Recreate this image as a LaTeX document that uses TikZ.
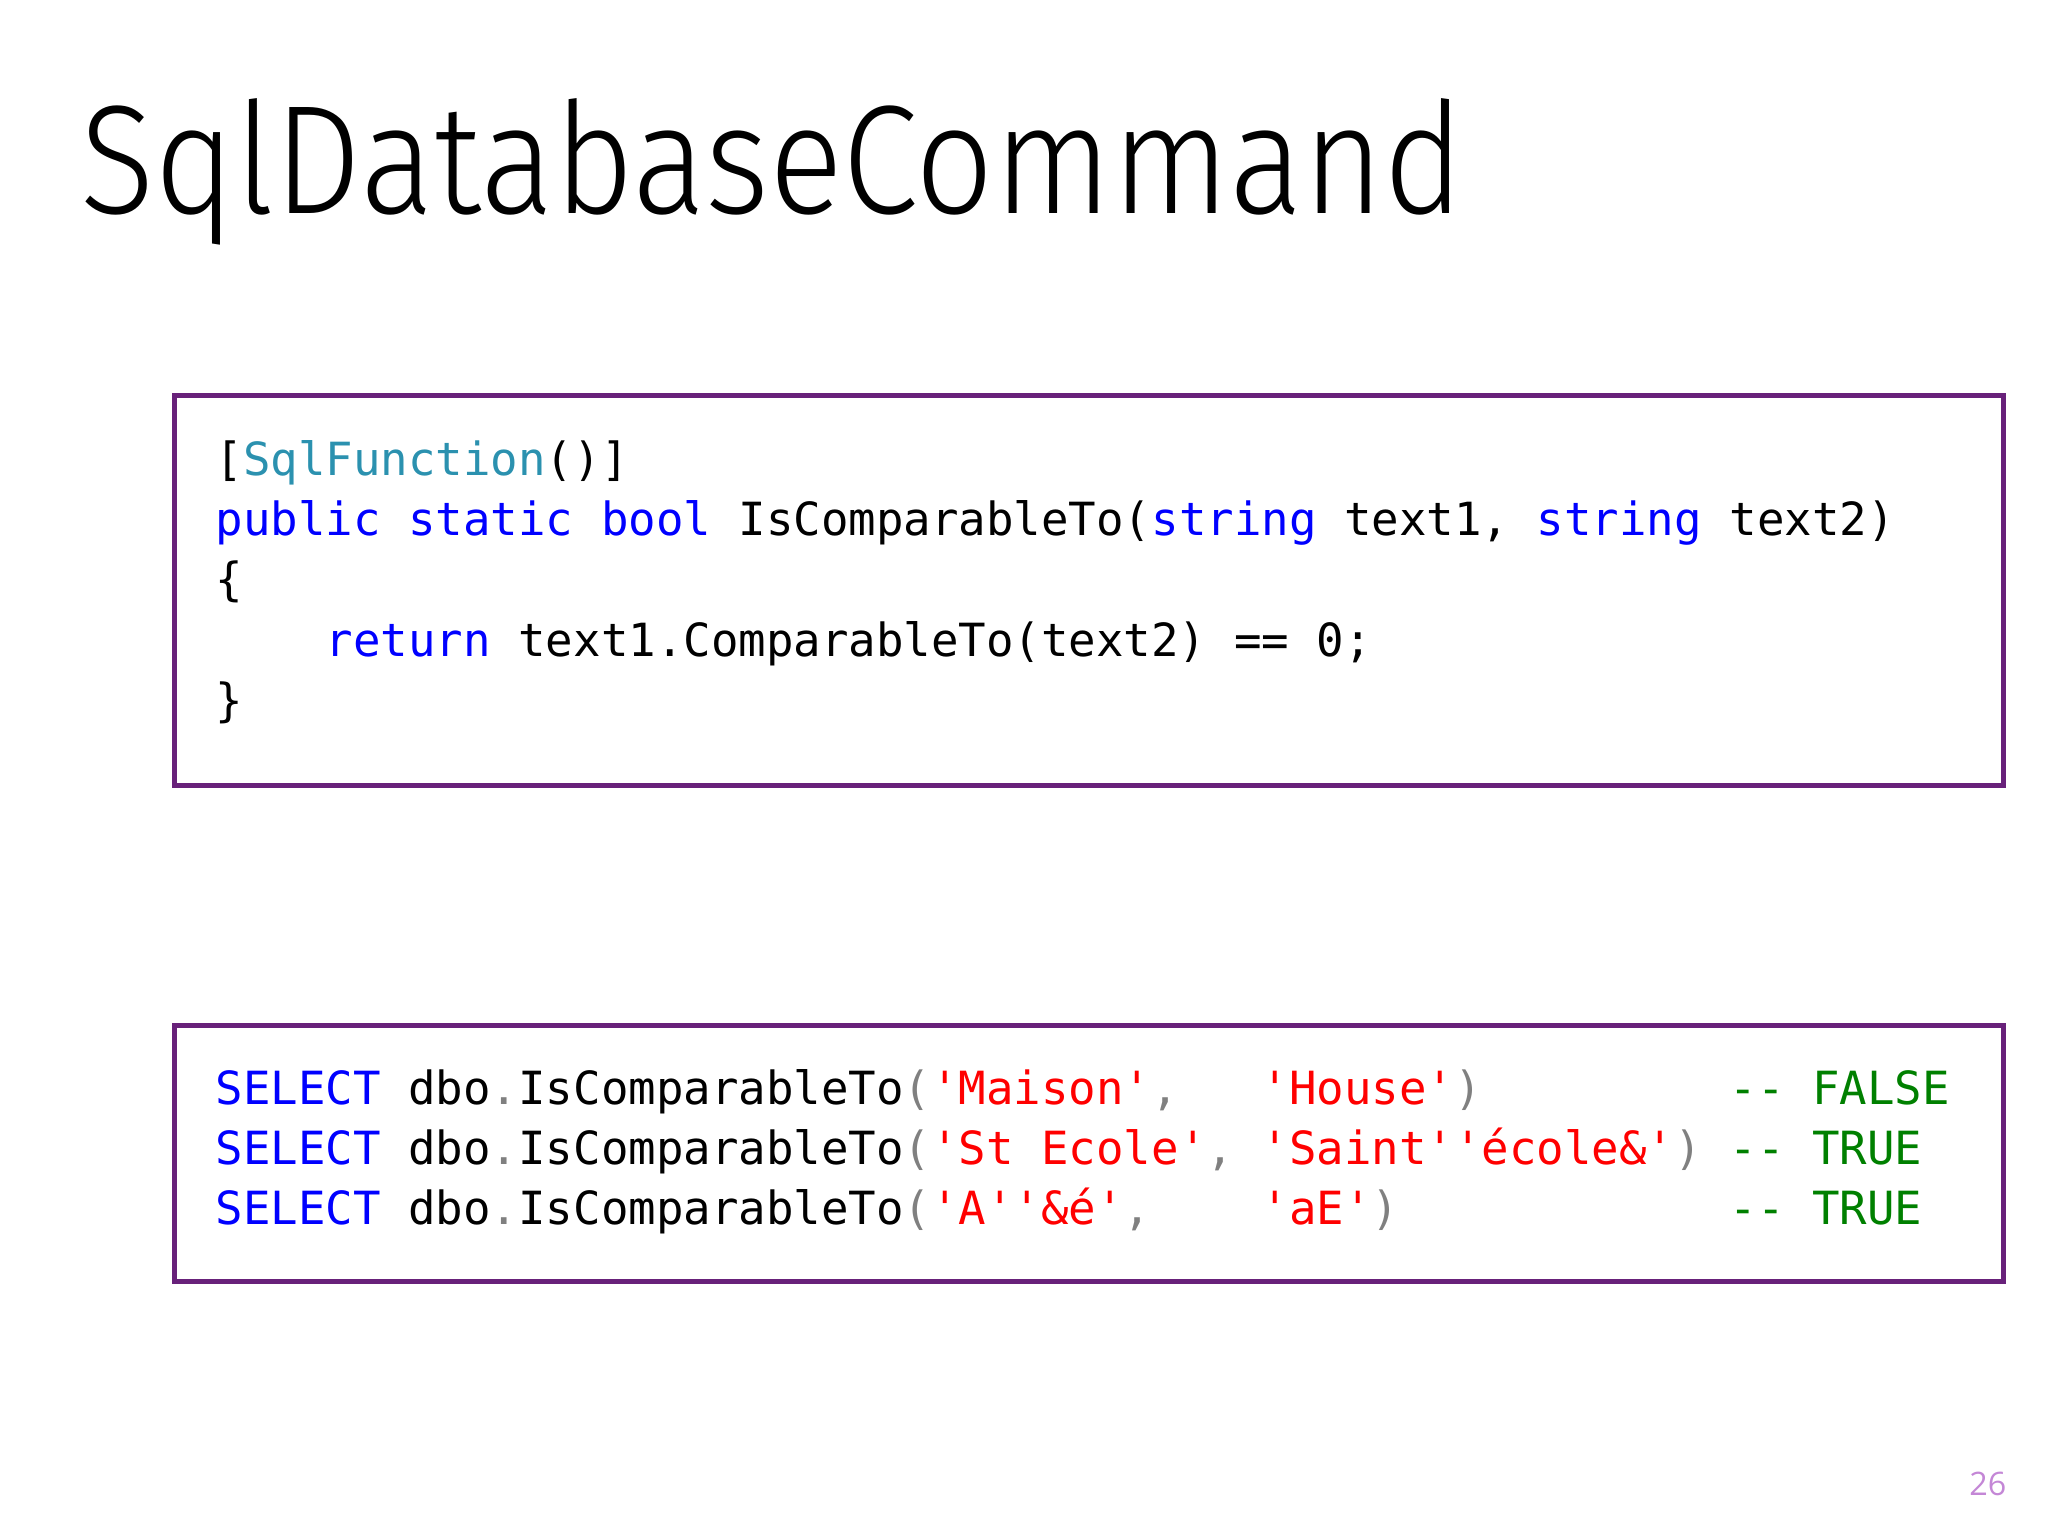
\documentclass[tikz,border=0pt]{standalone}
\usepackage{fontspec}
\setmainfont{Open Sans}
\setmonofont{DejaVu Sans Mono}
\newfontfamily\titlefont{Fira Sans Light}[FakeStretch=0.89]

\definecolor{framepurple}{RGB}{104,33,122}
\definecolor{kwblue}{RGB}{0,0,255}
\definecolor{typeteal}{RGB}{43,145,175}
\definecolor{strred}{RGB}{255,0,0}
\definecolor{cmtgreen}{RGB}{0,128,0}
\definecolor{punctgray}{RGB}{128,128,128}
\definecolor{pagelilac}{RGB}{196,135,214}

\newcommand{\kw}[1]{\textcolor{kwblue}{#1}}
\newcommand{\str}[1]{\textcolor{strred}{#1}}
\newcommand{\pun}[1]{\textcolor{punctgray}{#1}}
\newcommand{\cmt}[1]{\textcolor{cmtgreen}{#1}}

\begin{document}
\begin{tikzpicture}[x=0.01cm,y=-0.01cm,
  codebox/.style={draw=framepurple, line width=1.42pt},
  codeline/.style={anchor=base west, inner sep=0pt,
    font=\ttfamily\fontsize{13}{17}\selectfont}]

  \useasboundingbox (0,0) rectangle (2048,1536);

  % Title
  \node[anchor=base west, inner sep=0pt, font=\titlefont\fontsize{44}{48}\selectfont]
    (title) at (80,213) {SqlDatabaseCommand};

  % C# function
  \draw[codebox] (174.5,395.5) rectangle (2003.5,785);
  \node[codeline] (fnAttr) at (215,475)
    {[\textcolor{typeteal}{SqlFunction}()]};
  \node[codeline] (fnHead) at (215,535.4)
    {\kw{public}~\kw{static}~\kw{bool}~IsComparableTo(\kw{string}~text1,~\kw{string}~text2)};
  \node[codeline] (fnOpen) at (215,595.8) {\{};
  \node[codeline] (fnBody) at (215,656.2)
    {~~~~\kw{return}~text1.ComparableTo(text2)~==~0;};
  \node[codeline] (fnClose) at (215,716.6) {\}};

  % SQL calls
  \draw[codebox] (174.5,1025.5) rectangle (2003.5,1281);
  \node[codeline] (sqlA) at (215,1104)
    {\kw{SELECT}~dbo\pun{.}IsComparableTo\pun{(}\str{'Maison'}\pun{,}~~~\str{'House'}\pun{)}~~~~~~~~~\cmt{--~FALSE}};
  \node[codeline] (sqlB) at (215,1164.4)
    {\kw{SELECT}~dbo\pun{.}IsComparableTo\pun{(}\str{'St~Ecole'}\pun{,}~\str{'Saint''école\&'}\pun{)}~\cmt{--~TRUE}};
  \node[codeline] (sqlC) at (215,1224.8)
    {\kw{SELECT}~dbo\pun{.}IsComparableTo\pun{(}\str{'A''\&é'}\pun{,}~~~~\str{'aE'}\pun{)}~~~~~~~~~~~~\cmt{--~TRUE}};

  % Slide number
  \node[anchor=base east, inner sep=0pt, text=pagelilac, font=\fontsize{9.2}{11}\selectfont]
    (pageNo) at (2007,1495) {26};

\end{tikzpicture}
\end{document}
